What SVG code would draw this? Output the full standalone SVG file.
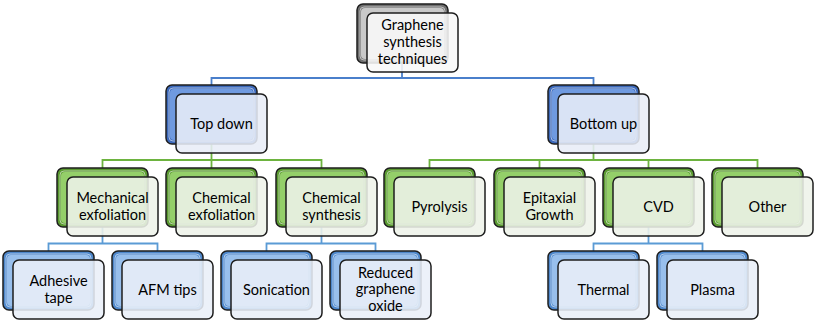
<svg xmlns="http://www.w3.org/2000/svg" width="815" height="321" viewBox="0 0 815 321">
<defs>
<style>
.bk{stroke:#1e1e1e;stroke-width:1.5}
.in{stroke:none}
.fr{stroke:#1e1e1e;stroke-width:1.5;fill-opacity:0.88}
.hl{fill:none;stroke:#ffffff;stroke-opacity:0.55;stroke-width:1}
.t{font-family:Lato,"Liberation Sans",Arial,sans-serif;font-size:14.5px;fill:#000;text-anchor:middle}
.cb{fill:none;stroke:#4a7fcb;stroke-width:1.8}
.cl{fill:none;stroke:#5b9bd5;stroke-width:1.8}
.cg{fill:none;stroke:#6db33f;stroke-width:1.8}
.gray .bk{fill:#707070}.gray .in{fill:#c9c9c9}.gray .fr{fill:#f8f8f8}
.blue .bk{fill:#3c69bb}.blue .in{fill:#6f9ae0}.blue .fr{fill:#e8edf7}
.lblue .bk{fill:#4f88cc}.lblue .in{fill:#98bfec}.lblue .fr{fill:#e9eff8}
.green .bk{fill:#5a9a30}.green .in{fill:#94cf69}.green .fr{fill:#eef3e9}
</style>
</defs>
<rect width="815" height="321" fill="#ffffff"/>
<g id="connectors">
<path class="cb" d="M402,63 V78 M211.5,85 V78 H593.5 V85"/>
<path class="cg" d="M211.5,144 V160 M102.5,168 V160 H321.5 V168 M211.5,160 V168"/>
<path class="cg" d="M593.5,144 V160 M429.5,168 V160 H757.5 V168 M539.5,160 V168 M648.5,160 V168"/>
<path class="cl" d="M102.5,227 V243.5 M48.5,251 V243.5 H157.5 V251"/>
<path class="cl" d="M321.5,227 V243.5 M266.5,251 V243.5 H375.5 V251"/>
<path class="cl" d="M648.5,227 V243.5 M593.5,251 V243.5 H702.5 V251"/>
</g>
<g id="n-root" class="gray">
<rect class="bk" x="357" y="4" width="91" height="59" rx="6"/>
<rect class="in" x="361" y="8" width="83" height="51" rx="4"/>
<rect class="hl" x="360" y="7" width="85" height="53" rx="4"/>
<rect class="fr" x="367" y="13" width="91" height="59" rx="6"/>
<text class="t" x="412.5" y="30">Graphene</text>
<text class="t" x="412.5" y="47">synthesis</text>
<text class="t" x="412.5" y="64">techniques</text>
</g>
<g id="n-topdown" class="blue">
<rect class="bk" x="166" y="85" width="91" height="59" rx="6"/>
<rect class="in" x="170" y="89" width="83" height="51" rx="4"/>
<rect class="hl" x="169" y="88" width="85" height="53" rx="4"/>
<rect class="fr" x="176" y="94" width="91" height="59" rx="6"/>
<text class="t" x="221.5" y="128.5">Top down</text>
</g>
<g id="n-bottomup" class="blue">
<rect class="bk" x="548" y="85" width="91" height="59" rx="6"/>
<rect class="in" x="552" y="89" width="83" height="51" rx="4"/>
<rect class="hl" x="551" y="88" width="85" height="53" rx="4"/>
<rect class="fr" x="558" y="94" width="91" height="59" rx="6"/>
<text class="t" x="603.5" y="128.5">Bottom up</text>
</g>
<g id="n-mech" class="green">
<rect class="bk" x="57" y="168" width="91" height="59" rx="6"/>
<rect class="in" x="61" y="172" width="83" height="51" rx="4"/>
<rect class="hl" x="60" y="171" width="85" height="53" rx="4"/>
<rect class="fr" x="67" y="177" width="91" height="59" rx="6"/>
<text class="t" x="112.5" y="203">Mechanical</text>
<text class="t" x="112.5" y="219.5">exfoliation</text>
</g>
<g id="n-chemexf" class="green">
<rect class="bk" x="166" y="168" width="91" height="59" rx="6"/>
<rect class="in" x="170" y="172" width="83" height="51" rx="4"/>
<rect class="hl" x="169" y="171" width="85" height="53" rx="4"/>
<rect class="fr" x="176" y="177" width="91" height="59" rx="6"/>
<text class="t" x="221.5" y="203">Chemical</text>
<text class="t" x="221.5" y="219.5">exfoliation</text>
</g>
<g id="n-chemsyn" class="green">
<rect class="bk" x="276" y="168" width="91" height="59" rx="6"/>
<rect class="in" x="280" y="172" width="83" height="51" rx="4"/>
<rect class="hl" x="279" y="171" width="85" height="53" rx="4"/>
<rect class="fr" x="286" y="177" width="91" height="59" rx="6"/>
<text class="t" x="331.5" y="203">Chemical</text>
<text class="t" x="331.5" y="219.5">synthesis</text>
</g>
<g id="n-pyro" class="green">
<rect class="bk" x="384" y="168" width="91" height="59" rx="6"/>
<rect class="in" x="388" y="172" width="83" height="51" rx="4"/>
<rect class="hl" x="387" y="171" width="85" height="53" rx="4"/>
<rect class="fr" x="394" y="177" width="91" height="59" rx="6"/>
<text class="t" x="439.5" y="211.5">Pyrolysis</text>
</g>
<g id="n-epi" class="green">
<rect class="bk" x="494" y="168" width="91" height="59" rx="6"/>
<rect class="in" x="498" y="172" width="83" height="51" rx="4"/>
<rect class="hl" x="497" y="171" width="85" height="53" rx="4"/>
<rect class="fr" x="504" y="177" width="91" height="59" rx="6"/>
<text class="t" x="549.5" y="203">Epitaxial</text>
<text class="t" x="549.5" y="219.5">Growth</text>
</g>
<g id="n-cvd" class="green">
<rect class="bk" x="603" y="168" width="91" height="59" rx="6"/>
<rect class="in" x="607" y="172" width="83" height="51" rx="4"/>
<rect class="hl" x="606" y="171" width="85" height="53" rx="4"/>
<rect class="fr" x="613" y="177" width="91" height="59" rx="6"/>
<text class="t" x="658.5" y="211.5">CVD</text>
</g>
<g id="n-other" class="green">
<rect class="bk" x="712" y="168" width="91" height="59" rx="6"/>
<rect class="in" x="716" y="172" width="83" height="51" rx="4"/>
<rect class="hl" x="715" y="171" width="85" height="53" rx="4"/>
<rect class="fr" x="722" y="177" width="91" height="59" rx="6"/>
<text class="t" x="767.5" y="211.5">Other</text>
</g>
<g id="n-tape" class="lblue">
<rect class="bk" x="3" y="251" width="91" height="59" rx="6"/>
<rect class="in" x="7" y="255" width="83" height="51" rx="4"/>
<rect class="hl" x="6" y="254" width="85" height="53" rx="4"/>
<rect class="fr" x="13" y="260" width="91" height="59" rx="6"/>
<text class="t" x="58.5" y="286">Adhesive</text>
<text class="t" x="58.5" y="302.5">tape</text>
</g>
<g id="n-afm" class="lblue">
<rect class="bk" x="112" y="251" width="91" height="59" rx="6"/>
<rect class="in" x="116" y="255" width="83" height="51" rx="4"/>
<rect class="hl" x="115" y="254" width="85" height="53" rx="4"/>
<rect class="fr" x="122" y="260" width="91" height="59" rx="6"/>
<text class="t" x="167.5" y="294.5">AFM tips</text>
</g>
<g id="n-sonic" class="lblue">
<rect class="bk" x="221" y="251" width="91" height="59" rx="6"/>
<rect class="in" x="225" y="255" width="83" height="51" rx="4"/>
<rect class="hl" x="224" y="254" width="85" height="53" rx="4"/>
<rect class="fr" x="231" y="260" width="91" height="59" rx="6"/>
<text class="t" x="276.5" y="294.5">Sonication</text>
</g>
<g id="n-rgo" class="lblue">
<rect class="bk" x="330" y="251" width="91" height="59" rx="6"/>
<rect class="in" x="334" y="255" width="83" height="51" rx="4"/>
<rect class="hl" x="333" y="254" width="85" height="53" rx="4"/>
<rect class="fr" x="340" y="260" width="91" height="59" rx="6"/>
<text class="t" x="385.5" y="277.5">Reduced</text>
<text class="t" x="385.5" y="294">graphene</text>
<text class="t" x="385.5" y="310.5">oxide</text>
</g>
<g id="n-thermal" class="lblue">
<rect class="bk" x="548" y="251" width="91" height="59" rx="6"/>
<rect class="in" x="552" y="255" width="83" height="51" rx="4"/>
<rect class="hl" x="551" y="254" width="85" height="53" rx="4"/>
<rect class="fr" x="558" y="260" width="91" height="59" rx="6"/>
<text class="t" x="603.5" y="294.5">Thermal</text>
</g>
<g id="n-plasma" class="lblue">
<rect class="bk" x="657" y="251" width="91" height="59" rx="6"/>
<rect class="in" x="661" y="255" width="83" height="51" rx="4"/>
<rect class="hl" x="660" y="254" width="85" height="53" rx="4"/>
<rect class="fr" x="667" y="260" width="91" height="59" rx="6"/>
<text class="t" x="712.5" y="294.5">Plasma</text>
</g>
</svg>
